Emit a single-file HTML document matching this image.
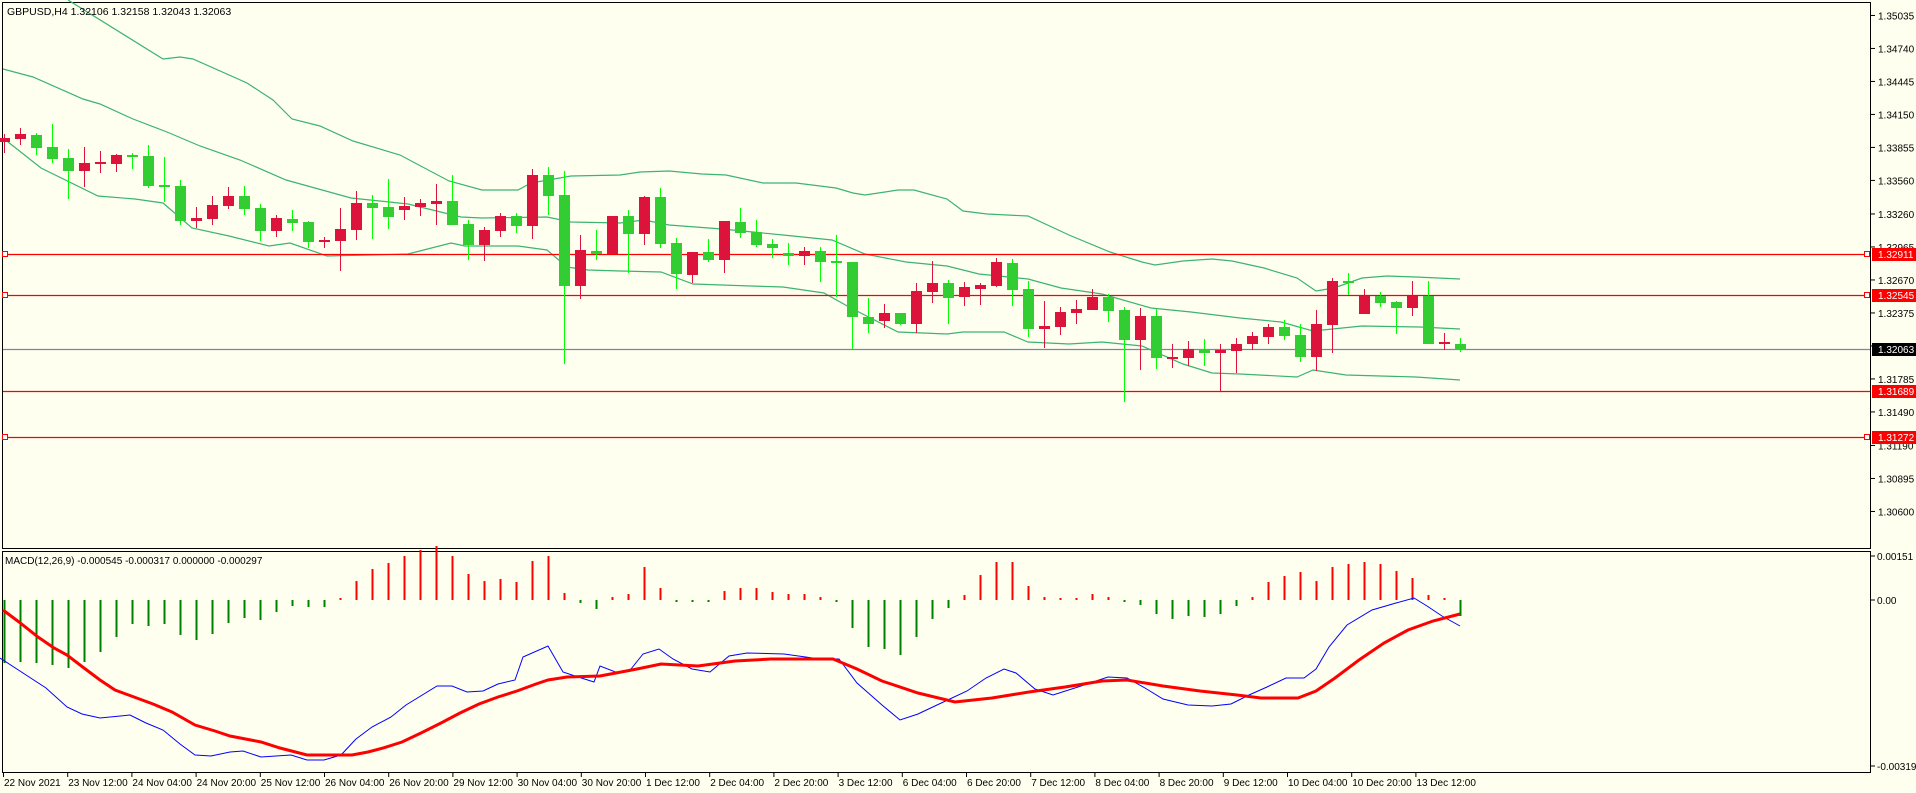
<!DOCTYPE html>
<html><head><meta charset="utf-8"><style>
html,body{margin:0;padding:0;background:#fffff0;}
svg{display:block;font-family:"Liberation Sans",sans-serif;}
</style></head><body>
<svg id="s" width="1916" height="793" xmlns="http://www.w3.org/2000/svg"></svg>
<script>
const S=document.getElementById('s');let h='';
h+='<rect x="0" y="0" width="1916" height="793" fill="#fffff0"/>';
h+='<rect x="2.5" y="2.5" width="1868" height="546" fill="none" stroke="#000"/>';
h+='<rect x="2.5" y="551.5" width="1868" height="221" fill="none" stroke="#000"/>';
function pl(pts,c,w){return '<polyline fill="none" stroke="'+c+'" stroke-width="'+w+'" points="'+pts.map(p=>p.join(',')).join(' ')+'"/>';}
const up=[[68,0],[163,59],[180,57],[193,59],[247,83],[273,100],[292,119],[320,126],[353,141],[400,155],[449,181],[482,190],[518,190],[531,183],[571,176],[620,175],[640,172],[669,171],[702,174],[726,175],[763,183],[796,183],[836,188],[853,193],[865,195],[898,190],[914,190],[947,199],[963,211],[987,214],[1028,216],[1069,235],[1110,252],[1142,262],[1155,265],[1183,261],[1212,259],[1232,261],[1264,268],[1297,278],[1316,291],[1334,288],[1362,278],[1387,276],[1416,277],[1460,279]];
const mid=[[3,69],[33,77],[83,99],[100,104],[133,119],[167,132],[200,146],[240,160],[286,180],[351,198],[408,204],[461,217],[482,218],[547,217],[571,222],[620,223],[644,220],[669,225],[722,229],[783,235],[832,240],[865,254],[906,262],[947,266],[979,274],[1028,279],[1061,288],[1102,294],[1151,308],[1191,312],[1240,318],[1281,322],[1313,331],[1362,326],[1420,327],[1460,329]];
const lo=[[3,138],[41,168],[98,196],[135,199],[163,203],[192,228],[229,236],[269,246],[290,243],[327,256],[408,254],[451,243],[465,246],[518,246],[547,250],[567,267],[588,270],[620,271],[661,272],[693,284],[751,286],[783,287],[824,293],[849,307],[898,332],[947,334],[963,332],[1004,332],[1028,342],[1069,344],[1102,342],[1142,346],[1183,364],[1212,373],[1240,374],[1297,377],[1313,370],[1346,375],[1416,377],[1460,380]];
[up,mid,lo].forEach(a=>h+=pl(a,'#3cb371',1.2));
[[254,'#f00'],[295,'#f00'],[349,'#778899'],[391,'#f00'],[437,'#f00']].forEach(l=>{h+='<line x1="3" x2="1870" y1="'+(l[0]+.5)+'" y2="'+(l[0]+.5)+'" stroke="'+l[1]+'" stroke-width="1.2"/>';});
[254,295,437].forEach(y=>{h+='<rect x="2.5" y="'+(y-2.5)+'" width="5" height="5" fill="#fff" stroke="#f00"/><rect x="1864.5" y="'+(y-2.5)+'" width="5" height="5" fill="#fff" stroke="#f00"/>';});
const C=[[138,142,134,153,'R'],[134,139,128,145,'R'],[135,148,133,155,'G'],[147,159,124,163,'G'],[158,171,149,199,'G'],[163,171,147,187,'R'],[162,164,151,173,'R'],[155,164,154,172,'R'],[155,157,153,169,'G'],[156,186,145,188,'G'],[185,187,157,202,'G'],[186,221,180,225,'G'],[218,221,207,228,'R'],[205,219,196,225,'R'],[196,206,187,209,'R'],[196,209,186,215,'G'],[208,231,204,241,'G'],[218,231,215,237,'R'],[219,223,210,231,'G'],[222,242,221,248,'G'],[240,242,237,248,'R'],[229,241,208,271,'R'],[203,230,191,240,'R'],[203,208,195,239,'G'],[207,217,179,229,'G'],[206,210,197,220,'R'],[203,207,199,216,'R'],[201,204,184,225,'R'],[201,225,175,225,'G'],[224,245,220,260,'G'],[230,245,227,261,'R'],[216,231,213,237,'R'],[216,226,213,233,'G'],[175,226,169,239,'R'],[175,196,167,215,'G'],[195,286,171,364,'G'],[250,286,235,299,'R'],[251,254,230,260,'G'],[216,254,216,254,'R'],[216,234,210,273,'G'],
[197,234,196,245,'R'],[197,244,188,248,'G'],[243,274,238,289,'G'],[252,275,252,283,'R'],[252,260,239,262,'G'],[221,260,221,273,'R'],[222,233,208,238,'G'],[232,245,220,247,'G'],[244,248,239,258,'G'],[253,256,243,265,'G'],[251,256,247,265,'R'],[251,262,247,282,'G'],[261,263,235,297,'G'],[262,317,262,349,'G'],[317,324,298,333,'G'],[313,321,304,328,'R'],[313,324,313,325,'G'],[291,324,283,333,'R'],[283,292,261,303,'R'],[283,298,280,324,'G'],[287,297,282,306,'R'],[285,289,283,305,'R'],[262,286,258,287,'R'],[263,290,259,306,'G'],[289,329,281,337,'G'],[326,329,301,348,'R'],[312,327,307,335,'R'],[309,313,300,324,'R'],[297,310,289,310,'R'],[297,311,294,322,'G'],[310,340,307,402,'G'],[316,340,308,370,'R'],[316,358,309,369,'G'],[357,359,344,368,'R'],[349,358,341,366,'R'],[349,353,339,366,'G'],[350,353,344,391,'R'],[344,351,338,373,'R'],[336,344,332,350,'R'],
[327,337,324,344,'R'],[327,336,320,340,'G'],[335,357,324,362,'G'],[324,357,310,371,'R'],[281,325,278,353,'R'],[281,283,273,295,'G'],[296,314,289,314,'R'],[296,303,292,307,'G'],[302,308,301,334,'G'],[296,308,281,316,'R'],[296,344,281,344,'G'],[342,344,333,350,'R'],[344,350,338,352,'G']];
C.forEach((c,i)=>{const x=4+16*i;const red=c[4]=='R';const wc=red?'#dc143c':'#00ff00',bc=red?'#dc143c':'#32cd32';
h+='<line x1="'+(x+.5)+'" x2="'+(x+.5)+'" y1="'+c[2]+'" y2="'+c[3]+'" stroke="'+wc+'" stroke-width="1"/>';
const bh=Math.max(2,c[1]-c[0]);h+='<rect x="'+(x-5)+'" y="'+c[0]+'" width="11" height="'+bh+'" fill="'+bc+'"/>';});
const pr=['1.35035','1.34740','1.34445','1.34150','1.33855','1.33560','1.33260','1.32965','1.32670','1.32375','1.32080','1.31785','1.31490','1.31190','1.30895','1.30600'];
pr.forEach(p=>{const y=253+(1.32911-parseFloat(p))*11184;h+='<line x1="1870" x2="1875" y1="'+y+'" y2="'+y+'" stroke="#000"/><text x="1878" y="'+(y+4)+'" font-size="10" fill="#000">'+p+'</text>';});
[[254,'1.32911','#f00'],[295,'1.32545','#f00'],[349,'1.32063','#000'],[391,'1.31689','#f00'],[437,'1.31272','#f00']].forEach(l=>{h+='<rect x="1872" y="'+(l[0]-6)+'" width="44" height="13" fill="'+l[2]+'"/><text x="1878" y="'+(l[0]+4)+'" font-size="10" fill="#fff">'+l[1]+'</text>';});
h+='<text x="7" y="15" font-size="10.5" fill="#000">GBPUSD,H4  1.32106 1.32158 1.32043 1.32063</text>';
h+='<text x="5" y="564" font-size="10" fill="#000">MACD(12,26,9) -0.000545 -0.000317 0.000000 -0.000297</text>';
const H=[663,662,663,665,668,662,652,637,624,626,624,635,640,634,623,618,620,612,606,607,607,599,581,569,563,556,550,546,556,574,581,579,582,561,556,593,603,609,597,594,567,588,601,601,601,591,588,588,592,594,594,597,601,628,647,649,655,637,619,608,595,575,562,562,586,597,598,598,594,597,602,605,614,619,616,617,614,606,597,582,576,572,581,567,564,562,564,571,578,595,598,616];
H.forEach((v,i)=>{const x=4+16*i+.5;let y1=600,y2=v;if(Math.abs(v-600)<2){y2=v<600?598:602;}
const c=v<600?'#ff0000':'#008000';h+='<line x1="'+x+'" x2="'+x+'" y1="'+y1+'" y2="'+y2+'" stroke="'+c+'" stroke-width="2"/>';});
const blue=[[0,658],[23,673],[46,688],[67,707],[82,714],[100,718],[130,715],[146,723],[163,730],[180,744],[195,755],[211,756],[230,752],[243,751],[261,757],[291,755],[307,760],[324,760],[341,755],[356,739],[372,727],[391,717],[406,705],[437,686],[452,686],[467,692],[483,691],[498,684],[515,680],[523,657],[548,646],[563,672],[575,676],[594,682],[600,666],[618,673],[631,669],[643,654],[659,649],[673,659],[692,669],[710,672],[729,656],[747,653],[784,654],[820,659],[839,659],[857,683],[882,705],[900,720],[918,714],[937,705],[967,691],[986,678],[1004,669],[1016,673],[1035,689],[1053,695],[1078,687],[1108,677],[1127,678],[1145,688],[1163,699],[1188,705],[1212,706],[1231,704],[1249,695],[1267,687],[1286,678],[1304,678],[1316,669],[1329,647],[1347,625],[1372,610],[1396,603],[1414,598],[1427,606],[1442,616],[1460,626]];
const red=[[3,610],[19,622],[38,637],[54,648],[67,655],[84,668],[100,680],[115,690],[134,697],[153,704],[172,712],[195,725],[215,731],[230,736],[261,742],[280,748],[307,755],[352,755],[368,752],[383,748],[402,742],[421,733],[441,723],[460,713],[479,704],[498,697],[517,691],[536,684],[548,680],[567,677],[600,676],[637,669],[661,664],[698,666],[735,661],[771,659],[833,659],[857,669],[882,681],[918,693],[955,702],[992,698],[1029,692],[1065,687],[1102,681],[1127,680],[1163,686],[1200,691],[1237,695],[1261,698],[1298,698],[1316,691],[1335,678],[1359,660],[1384,643],[1408,630],[1433,621],[1460,614]];
h+=pl(blue,'#0000ff',1);h+=pl(red,'#ff0000',3);
[['0.00151',560],['0.00',604],['-0.00319',770]].forEach(l=>{h+='<line x1="1870" x2="1875" y1="'+(l[1]-4)+'" y2="'+(l[1]-4)+'" stroke="#000"/><text x="1877" y="'+l[1]+'" font-size="10" fill="#000">'+l[0]+'</text>';});
const D=['22 Nov 2021','23 Nov 12:00','24 Nov 04:00','24 Nov 20:00','25 Nov 12:00','26 Nov 04:00','26 Nov 20:00','29 Nov 12:00','30 Nov 04:00','30 Nov 20:00','1 Dec 12:00','2 Dec 04:00','2 Dec 20:00','3 Dec 12:00','6 Dec 04:00','6 Dec 20:00','7 Dec 12:00','8 Dec 04:00','8 Dec 20:00','9 Dec 12:00','10 Dec 04:00','10 Dec 20:00','13 Dec 12:00'];
D.forEach((d,k)=>{const x=3+64.2*k;h+='<line x1="'+(x+.5)+'" x2="'+(x+.5)+'" y1="773" y2="777" stroke="#000"/><text x="'+(x+1)+'" y="786" font-size="10" fill="#000">'+d+'</text>';});
S.innerHTML=h;
</script>
</body></html>
